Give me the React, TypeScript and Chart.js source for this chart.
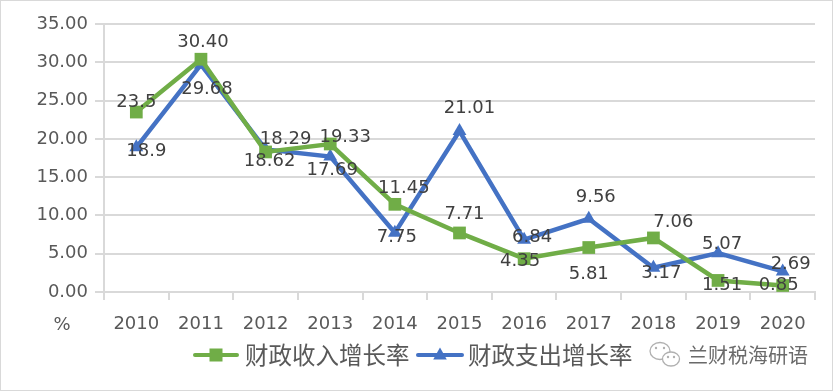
import React, { useEffect, useRef } from "react";
import { Chart, registerables } from "chart.js";

Chart.register(...registerables);

const years = ["2010", "2011", "2012", "2013", "2014", "2015", "2016", "2017", "2018", "2019", "2020"];
const seriesNames = ["财政收入增长率", "财政支出增长率"];
const revenueGrowth = [23.5, 30.4, 18.29, 19.33, 11.45, 7.71, 4.35, 5.81, 7.06, 1.51, 0.85];
const expenditureGrowth = [18.9, 29.68, 18.62, 17.69, 7.75, 21.01, 6.84, 9.56, 3.17, 5.07, 2.69];
const revenueDecimals = [1, 2, 2, 2, 2, 2, 2, 2, 2, 2, 2];
const expenditureDecimals = [1, 2, 2, 2, 2, 2, 2, 2, 2, 2, 2];
const yTickValues = [0, 5, 10, 15, 20, 25, 30, 35];
const unitLabel = "%";
const watermark = "兰财税海研语";

// label placement offsets (dx, dy) relative to each point
const revenueLabelOffsets = [
  [0, -10], [2, -17], [20, -13], [15, -7], [9, -16], [5, -19],
  [-4, 3], [0, 27], [20, -16], [4, 5], [-4, 0],
];
const expenditureLabelOffsets = [
  [10, 4], [6, 25], [4, 12], [2, 14], [2, 5], [10, -23],
  [8, -2], [7, -21], [8, 6], [4, -9], [8, -7],
];

const GREEN = "#70ad47";
const BLUE = "#4472c4";
const GRID = "#d9d9d9";
const TEXT = "#595959";
const LABEL = "#404040";
const FONT = '"DejaVu Sans", "Noto Sans CJK SC", sans-serif';
const CJK = '"Noto Sans CJK SC", "DejaVu Sans", sans-serif';

const offsetsBySeries = [revenueLabelOffsets, expenditureLabelOffsets];
const decimalsBySeries = [revenueDecimals, expenditureDecimals];

function drawMarker(ctx: CanvasRenderingContext2D, kind: string, x: number, y: number, color: string) {
  ctx.fillStyle = color;
  if (kind === "rect") {
    ctx.fillRect(x - 6.5, y - 6.5, 13, 13);
  } else {
    ctx.beginPath();
    ctx.moveTo(x, y - 7.5);
    ctx.lineTo(x + 6.8, y + 4.5);
    ctx.lineTo(x - 6.8, y + 4.5);
    ctx.closePath();
    ctx.fill();
  }
}

const overlayPlugin = {
  id: "overlay",
  afterDatasetsDraw(chart: any) {
    const ctx: CanvasRenderingContext2D = chart.ctx;
    ctx.save();
    ctx.font = `18px ${FONT}`;
    ctx.fillStyle = LABEL;
    ctx.textAlign = "center";
    ctx.textBaseline = "middle";
    chart.data.datasets.forEach((ds: any, di: number) => {
      const meta = chart.getDatasetMeta(di);
      meta.data.forEach((pt: any, i: number) => {
        const [dx, dy] = offsetsBySeries[di][i];
        const v = ds.data[i] as number;
        ctx.fillText(v.toFixed(decimalsBySeries[di][i]), pt.x + dx, pt.y + dy);
      });
    });
    ctx.restore();
  },
  afterDraw(chart: any) {
    const ctx: CanvasRenderingContext2D = chart.ctx;
    const area = chart.chartArea;
    ctx.save();
    // unit label
    ctx.font = `18px ${FONT}`;
    ctx.fillStyle = TEXT;
    ctx.textAlign = "center";
    ctx.textBaseline = "middle";
    ctx.fillText(unitLabel, 62, area.bottom + 33);

    // legend
    const ly = 355;
    const items = [
      { x0: 195, x1: 237, tx: 245, color: GREEN, kind: "rect" },
      { x0: 418, x1: 462, tx: 468, color: BLUE, kind: "tri" },
    ];
    items.forEach((it, i) => {
      ctx.strokeStyle = it.color;
      ctx.lineWidth = 4;
      ctx.lineCap = "round";
      ctx.beginPath();
      ctx.moveTo(it.x0, ly);
      ctx.lineTo(it.x1, ly);
      ctx.stroke();
      drawMarker(ctx, it.kind, (it.x0 + it.x1) / 2, ly, it.color);
      ctx.font = `23.5px ${CJK}`;
      ctx.fillStyle = TEXT;
      ctx.textAlign = "left";
      ctx.textBaseline = "middle";
      ctx.fillText(chart.data.datasets[i].label, it.tx, ly);
    });

    // watermark icon
    ctx.strokeStyle = "#b0b0b0";
    ctx.lineWidth = 1.3;
    ctx.beginPath();
    ctx.ellipse(660, 351, 10, 8.5, 0, 0, Math.PI * 2);
    ctx.stroke();
    ctx.fillStyle = "#ffffff";
    ctx.beginPath();
    ctx.ellipse(671, 359, 8.5, 7, 0, 0, Math.PI * 2);
    ctx.fill();
    ctx.stroke();
    ctx.fillStyle = "#b0b0b0";
    [[656, 348], [664, 348], [668, 357], [674, 357]].forEach(([x, y]) => {
      ctx.beginPath();
      ctx.arc(x, y, 1.2, 0, Math.PI * 2);
      ctx.fill();
    });
    ctx.font = `20px ${CJK}`;
    ctx.fillStyle = "#6a6a6a";
    ctx.textAlign = "left";
    ctx.fillText(watermark, 688, ly);

    // outer border
    ctx.strokeStyle = GRID;
    ctx.lineWidth = 1;
    ctx.strokeRect(0.5, 0.5, chart.width - 1, chart.height - 1);
    ctx.restore();
  },
};

export default function App() {
  const ref = useRef<HTMLCanvasElement>(null);
  useEffect(() => {
    document.body.style.margin = "0";
    const canvas = ref.current;
    if (!canvas) return;
    const chart = new Chart(canvas, {
      type: "line",
      data: {
        labels: years,
        datasets: [
          {
            label: seriesNames[0],
            data: revenueGrowth,
            borderColor: GREEN,
            backgroundColor: GREEN,
            borderWidth: 4.5,
            pointStyle: "rect",
            pointRadius: 9,
            pointBorderWidth: 0,
            pointBackgroundColor: GREEN,
            tension: 0,
          },
          {
            label: seriesNames[1],
            data: expenditureGrowth,
            borderColor: BLUE,
            backgroundColor: BLUE,
            borderWidth: 4.5,
            pointStyle: "triangle",
            pointRadius: 8,
            pointBorderWidth: 0,
            pointBackgroundColor: BLUE,
            tension: 0,
          },
        ],
      },
      options: {
        responsive: false,
        animation: false,
        layout: { padding: { top: 24, right: 18, left: 0, bottom: 0 } },
        plugins: { legend: { display: false }, tooltip: { enabled: false } },
        scales: {
          x: {
            type: "category",
            offset: true,
            grid: {
              display: true,
              drawOnChartArea: false,
              drawTicks: true,
              tickLength: 8,
              color: GRID,
              lineWidth: 2,
              offset: true,
            },
            border: { display: true, color: GRID, width: 2 },
            ticks: { font: { family: FONT, size: 18 }, color: TEXT, padding: 14, maxRotation: 0 },
            afterFit: (s: any) => {
              s.height = 99;
            },
          },
          y: {
            min: 0,
            max: 35,
            afterBuildTicks: (s: any) => {
              s.ticks = yTickValues.map((v) => ({ value: v }));
            },
            grid: { color: GRID, lineWidth: 2, tickLength: 9, drawTicks: true },
            border: { display: true, color: GRID, width: 2 },
            ticks: {
              font: { family: FONT, size: 18 },
              color: TEXT,
              padding: 7,
              callback: (v: any) => Number(v).toFixed(2),
            },
            afterFit: (s: any) => {
              s.width = 104;
            },
          },
        },
      },
      plugins: [overlayPlugin],
    });
    return () => chart.destroy();
  }, []);
  return <canvas ref={ref} width={833} height={391} style={{ display: "block" }} />;
}
